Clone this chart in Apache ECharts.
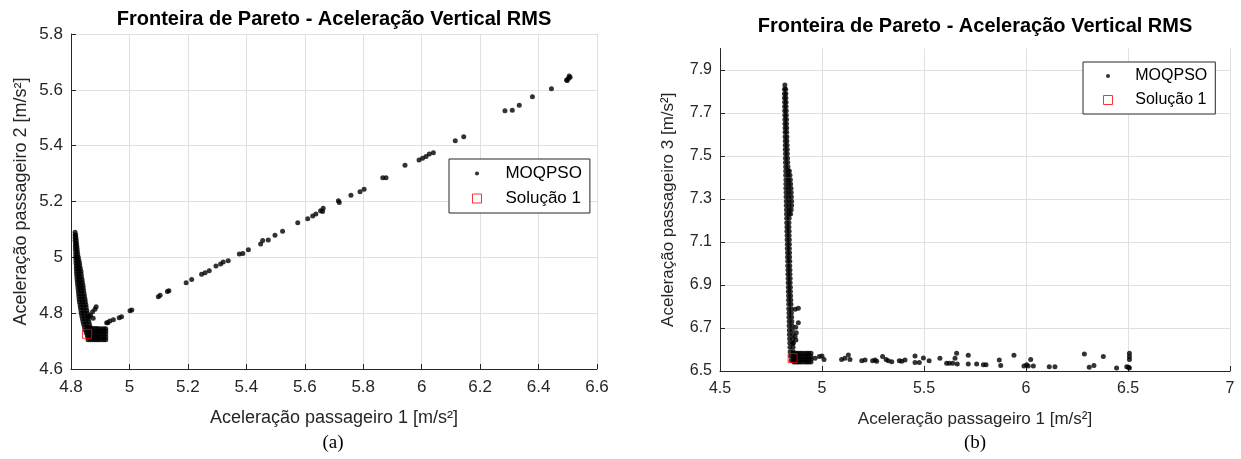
<!DOCTYPE html>
<html>
<head>
<meta charset="utf-8">
<script src="https://cdn.jsdelivr.net/npm/echarts@6/dist/echarts.min.js"></script>
<style>
html,body{margin:0;padding:0;background:#fff;}
#c{width:1241px;height:459px;}
</style>
</head>
<body>
<div id="c"></div>
<script>
// ---------- DATA ----------
const seriesNames = ['MOQPSO', 'Solução 1'];
const titleText = 'Fronteira de Pareto - Aceleração Vertical RMS';
const xNameA = 'Aceleração passageiro 1 [m/s²]';
const yNameA = 'Aceleração passageiro 2 [m/s²]';
const xNameB = 'Aceleração passageiro 1 [m/s²]';
const yNameB = 'Aceleração passageiro 3 [m/s²]';

// (a) passenger 1 vs passenger 2
const leftBand = [
[4.814,5.09],[4.814,5.08],[4.816,5.08],[4.814,5.07],[4.817,5.07],[4.814,5.06],[4.818,5.06],
[4.815,5.05],[4.819,5.05],[4.815,5.04],[4.820,5.04],[4.815,5.03],[4.821,5.03],[4.816,5.02],[4.822,5.02],
[4.816,5.01],[4.823,5.01],[4.816,5.00],[4.821,5.00],[4.825,5.00],[4.817,4.99],[4.822,4.99],[4.827,4.99],
[4.817,4.98],[4.823,4.98],[4.829,4.98],[4.818,4.97],[4.824,4.97],[4.830,4.97],[4.818,4.96],[4.825,4.96],[4.832,4.96],
[4.819,4.95],[4.826,4.95],[4.834,4.95],[4.819,4.94],[4.827,4.94],[4.835,4.94],[4.820,4.93],[4.828,4.93],[4.836,4.93],
[4.821,4.92],[4.829,4.92],[4.838,4.92],[4.822,4.91],[4.830,4.91],[4.839,4.91],[4.823,4.90],[4.832,4.90],[4.841,4.90],
[4.824,4.89],[4.833,4.89],[4.842,4.89],[4.825,4.88],[4.834,4.88],[4.843,4.88],[4.826,4.87],[4.835,4.87],[4.845,4.87],
[4.827,4.86],[4.837,4.86],[4.846,4.86],[4.828,4.85],[4.838,4.85],[4.848,4.85],[4.829,4.84],[4.839,4.84],[4.849,4.84],
[4.831,4.83],[4.841,4.83],[4.851,4.83],[4.832,4.82],[4.842,4.82],[4.852,4.82],[4.834,4.81],[4.844,4.81],[4.854,4.81],
[4.835,4.80],[4.845,4.80],[4.856,4.80],[4.837,4.79],[4.847,4.79],[4.857,4.79],[4.839,4.78],[4.849,4.78],[4.859,4.78],
[4.841,4.77],[4.851,4.77],[4.861,4.77],[4.843,4.76],[4.853,4.76],[4.863,4.76],[4.846,4.75],[4.856,4.75],[4.866,4.75],
[4.849,4.74],[4.858,4.74],[4.852,4.73],[4.860,4.73],[4.856,4.72]
];
const leftBlock = [
[4.858,4.705],[4.866,4.705],[4.874,4.705],[4.882,4.705],[4.889,4.705],
[4.858,4.715],[4.866,4.715],[4.874,4.715],[4.882,4.715],[4.889,4.715],
[4.858,4.725],[4.866,4.725],[4.874,4.725],[4.882,4.725],[4.889,4.725],
[4.858,4.735],[4.866,4.735],[4.874,4.735],[4.882,4.735],[4.889,4.735],
[4.858,4.745],[4.866,4.745],[4.874,4.745],[4.882,4.745],[4.889,4.745],
[4.896,4.705],[4.904,4.705],[4.912,4.705],[4.919,4.705],
[4.896,4.715],[4.904,4.715],[4.912,4.715],[4.919,4.715],
[4.896,4.725],[4.904,4.725],[4.912,4.725],[4.919,4.725],
[4.896,4.735],[4.904,4.735],[4.912,4.735],[4.919,4.735],
[4.896,4.744],[4.904,4.744],[4.912,4.744],[4.919,4.744]
];
const leftScatter = [
[4.886,4.823],[4.882,4.814],[4.874,4.805],[4.867,4.793],[4.863,4.787],[4.876,4.782],
[4.922,4.766],[4.926,4.766],[4.933,4.772],[4.945,4.776],[4.965,4.784],[4.973,4.787],[5.002,4.809],[5.008,4.811],
[5.099,4.859],[5.105,4.864],[5.130,4.878],[5.135,4.880],[5.194,4.909],[5.213,4.921],[5.247,4.939],[5.259,4.945],
[5.273,4.952],[5.296,4.969],[5.312,4.976],[5.321,4.983],[5.338,4.988],[5.376,5.012],[5.388,5.014],[5.407,5.027],
[5.449,5.048],[5.456,5.060],[5.475,5.062],[5.498,5.079],[5.524,5.093],[5.576,5.124],[5.610,5.138],[5.627,5.148],
[5.638,5.155],[5.654,5.167],[5.661,5.164],[5.663,5.176],[5.715,5.203],[5.718,5.196],[5.758,5.222],[5.789,5.235],
[5.803,5.244],[5.867,5.285],[5.878,5.285],[5.943,5.330],[5.991,5.349],[6.003,5.355],[6.015,5.361],[6.026,5.370],
[6.040,5.375],[6.115,5.418],[6.144,5.432],[6.285,5.525],[6.310,5.527],[6.334,5.545],[6.379,5.575],[6.444,5.604],
[6.496,5.635],[6.498,5.633],[6.502,5.641],[6.505,5.650],[6.508,5.645]
];
const leftSolution = [[4.855,4.726]];

// (b) passenger 1 vs passenger 3
const rightBand = [
[4.818,7.83],[4.816,7.81],[4.822,7.81],[4.816,7.79],[4.823,7.79],[4.816,7.77],[4.823,7.77],[4.817,7.75],[4.824,7.75],
[4.817,7.73],[4.824,7.73],[4.817,7.71],[4.825,7.71],[4.818,7.69],[4.825,7.69],[4.818,7.67],[4.826,7.67],
[4.818,7.65],[4.826,7.65],[4.819,7.63],[4.827,7.63],[4.819,7.61],[4.827,7.61],[4.819,7.59],[4.828,7.59],
[4.820,7.57],[4.828,7.57],[4.820,7.55],[4.829,7.55],[4.820,7.53],[4.830,7.53],[4.821,7.51],[4.830,7.51],
[4.821,7.49],[4.831,7.49],[4.821,7.47],[4.832,7.47],[4.822,7.45],[4.833,7.45],[4.822,7.43],[4.834,7.43],[4.840,7.43],
[4.822,7.41],[4.834,7.41],[4.843,7.41],[4.823,7.39],[4.835,7.39],[4.845,7.39],[4.823,7.37],[4.836,7.37],[4.846,7.37],
[4.823,7.35],[4.836,7.35],[4.848,7.35],[4.824,7.33],[4.837,7.33],[4.849,7.33],[4.824,7.31],[4.837,7.31],[4.850,7.31],
[4.825,7.29],[4.838,7.29],[4.851,7.29],[4.825,7.27],[4.838,7.27],[4.851,7.27],[4.826,7.25],[4.839,7.25],[4.849,7.25],
[4.826,7.23],[4.839,7.23],[4.846,7.23],[4.827,7.21],[4.839,7.21],[4.827,7.19],[4.838,7.19],[4.828,7.17],[4.838,7.17],
[4.828,7.15],[4.839,7.15],[4.829,7.13],[4.839,7.13],[4.829,7.11],[4.840,7.11],[4.830,7.09],[4.840,7.09],
[4.830,7.07],[4.840,7.07],[4.831,7.05],[4.841,7.05],[4.831,7.03],[4.841,7.03],[4.832,7.01],[4.842,7.01],
[4.832,6.99],[4.842,6.99],[4.833,6.97],[4.843,6.97],[4.833,6.95],[4.843,6.95],[4.834,6.93],[4.844,6.93],
[4.834,6.91],[4.844,6.91],[4.835,6.89],[4.845,6.89],[4.835,6.87],[4.845,6.87],[4.836,6.85],[4.846,6.85],
[4.836,6.83],[4.847,6.83],[4.837,6.81],[4.848,6.81],[4.837,6.79],[4.849,6.79],[4.838,6.77],[4.850,6.77],
[4.838,6.75],[4.851,6.75],[4.839,6.73],[4.852,6.73],[4.839,6.71],[4.853,6.71],[4.840,6.69],[4.854,6.69],
[4.840,6.67],[4.855,6.67],[4.841,6.65],[4.856,6.65],[4.842,6.63],[4.857,6.63],[4.843,6.61],[4.858,6.61],
[4.844,6.59],[4.859,6.59],[4.846,6.57],[4.860,6.57],[4.850,6.55],[4.862,6.55]
];
const rightBlock = [
[4.862,6.542],[4.872,6.542],[4.882,6.542],[4.892,6.542],[4.902,6.542],
[4.862,6.555],[4.872,6.555],[4.882,6.555],[4.892,6.555],[4.902,6.555],
[4.862,6.568],[4.872,6.568],[4.882,6.568],[4.892,6.568],[4.902,6.568],
[4.862,6.582],[4.872,6.582],[4.882,6.582],[4.892,6.582],[4.902,6.582],
[4.915,6.542],[4.925,6.542],[4.935,6.542],[4.946,6.542],
[4.915,6.555],[4.925,6.555],[4.935,6.555],[4.946,6.555],
[4.915,6.568],[4.925,6.568],[4.935,6.568],[4.946,6.568],
[4.915,6.582],[4.925,6.582],[4.935,6.582],[4.946,6.582]
];
const rightScatter = [
[4.868,6.787],[4.884,6.792],[4.884,6.725],[4.871,6.703],[4.874,6.678],[4.868,6.660],[4.872,6.644],[4.859,6.629],
[4.966,6.559],[4.987,6.567],[5.000,6.570],[5.010,6.554],[5.096,6.554],[5.112,6.559],[5.129,6.574],[5.137,6.554],
[5.195,6.548],[5.211,6.551],[5.248,6.548],[5.260,6.551],[5.268,6.545],[5.297,6.567],[5.314,6.554],[5.325,6.548],
[5.342,6.543],[5.379,6.548],[5.391,6.545],[5.407,6.551],[5.456,6.570],[5.456,6.539],[5.477,6.539],[5.497,6.560],
[5.525,6.548],[5.578,6.559],[5.611,6.536],[5.624,6.536],[5.641,6.536],[5.652,6.559],[5.660,6.582],[5.663,6.533],
[5.717,6.573],[5.717,6.533],[5.758,6.533],[5.791,6.529],[5.804,6.529],[5.869,6.551],[5.876,6.526],[5.941,6.573],
[5.990,6.523],[6.003,6.529],[6.011,6.523],[6.023,6.554],[6.036,6.523],[6.114,6.520],[6.142,6.520],[6.286,6.579],
[6.310,6.517],[6.333,6.526],[6.379,6.567],[6.444,6.514],[6.494,6.520],[6.503,6.517],[6.507,6.582],[6.507,6.567],
[6.507,6.554],[6.507,6.514]
];
const rightSolution = [[4.856,6.560]];

// ---------- CHART ----------
const chart = echarts.init(document.getElementById('c'), null, {renderer: 'canvas'});
const FONT = 'Liberation Sans';
const dotSvg = "<svg xmlns='http://www.w3.org/2000/svg' width='20' height='20'><circle cx='10' cy='10' r='4.5' fill='black'/></svg>";
const dotIcon = 'image://data:image/svg+xml;charset=utf-8,' + encodeURIComponent(dotSvg);

function xAxisCfg(grid, min, max, interval, name, fs) {
  return {
    type: 'value', gridIndex: grid, min: min, max: max, interval: interval,
    name: name, nameLocation: 'middle', nameGap: 40,
    nameTextStyle: {fontFamily: FONT, fontSize: fs + 1, color: '#262626'},
    axisLine: {show: true, lineStyle: {color: '#262626', width: 1}},
    axisTick: {show: true, inside: true, length: 5, lineStyle: {color: '#262626'}},
    axisLabel: {fontFamily: FONT, fontSize: fs, color: '#262626', margin: 10},
    splitLine: {show: true, lineStyle: {color: '#e0e0e0', width: 1}}
  };
}
function yAxisCfg(grid, min, max, interval, name, fs, gap) {
  return {
    type: 'value', gridIndex: grid, min: min, max: max, interval: interval,
    name: name, nameLocation: 'middle', nameGap: gap,
    nameTextStyle: {fontFamily: FONT, fontSize: fs + 1, color: '#262626'},
    axisLine: {show: true, lineStyle: {color: '#262626', width: 1}},
    axisTick: {show: true, inside: true, length: 5, lineStyle: {color: '#262626'}},
    axisLabel: {fontFamily: FONT, fontSize: fs, color: '#262626', margin: 8, showMaxLabel: (grid === 0)},
    splitLine: {show: true, showMaxLine: (grid === 0), lineStyle: {color: '#e0e0e0', width: 1}}
  };
}
function legendCfg(left, top, fs, padL, gap) {
  return {
    orient: 'vertical', left: left, top: top,
    backgroundColor: '#fff', borderColor: '#262626', borderWidth: 1,
    padding: [6, 8, 6, padL], itemGap: gap, itemWidth: 9, itemHeight: 9,
    textStyle: {fontFamily: FONT, fontSize: fs, color: '#000', lineHeight: fs},
    formatter: function (n) { return '    ' + n; },
    selectedMode: false,
    data: [
      {name: seriesNames[0], icon: dotIcon},
      {name: seriesNames[1], icon: 'rect', itemStyle: {color: 'rgba(255,255,255,0)', borderColor: '#ff0000', borderWidth: 1}}
    ]
  };
}
function dots(grid, data) {
  return {
    type: 'scatter', name: seriesNames[0], xAxisIndex: grid, yAxisIndex: grid,
    data: data, symbol: 'circle', symbolSize: 5,
    itemStyle: {color: '#000'}, silent: true, z: 2
  };
}
function sol(grid, data) {
  return {
    type: 'scatter', name: seriesNames[1], xAxisIndex: grid, yAxisIndex: grid,
    data: data, symbol: 'rect', symbolSize: 9,
    itemStyle: {color: 'rgba(255,255,255,0)', borderColor: '#ff0000', borderWidth: 1}, silent: true, z: 3
  };
}

const option = {
  animation: false,
  backgroundColor: '#fff',
  grid: [
    {left: 71, top: 34, width: 526, height: 335, containLabel: false},
    {left: 720, top: 48.5, width: 510, height: 322.5, containLabel: false}
  ],
  xAxis: [
    xAxisCfg(0, 4.8, 6.6, 0.2, xNameA, 17),
    xAxisCfg(1, 4.5, 7, 0.5, xNameB, 16)
  ],
  yAxis: [
    yAxisCfg(0, 4.6, 5.8, 0.2, yNameA, 17, 41),
    yAxisCfg(1, 6.5, 8.0, 0.2, yNameB, 16, 43)
  ],
  legend: [
    legendCfg(449, 159, 17, 23, 8),
    legendCfg(1083, 62, 16, 20, 8)
  ],
  series: [
    dots(0, leftBand.concat(leftBlock, leftScatter)),
    sol(0, leftSolution),
    dots(1, rightBand.concat(rightBlock, rightScatter)),
    sol(1, rightSolution)
  ],
  graphic: [
    {type: 'text', x: 334, y: 19, style: {text: titleText, align: 'center', verticalAlign: 'middle', font: 'bold 20px "Liberation Sans"', fill: '#000'}},
    {type: 'text', x: 975, y: 26, style: {text: titleText, align: 'center', verticalAlign: 'middle', font: 'bold 20px "Liberation Sans"', fill: '#000'}},
    {type: 'text', x: 333, y: 443, style: {text: '(a)', align: 'center', verticalAlign: 'middle', font: '19px "Liberation Serif"', fill: '#000'}},
    {type: 'text', x: 975, y: 443, style: {text: '(b)', align: 'center', verticalAlign: 'middle', font: '19px "Liberation Serif"', fill: '#000'}}
  ]
};
chart.setOption(option);
</script>
</body>
</html>
